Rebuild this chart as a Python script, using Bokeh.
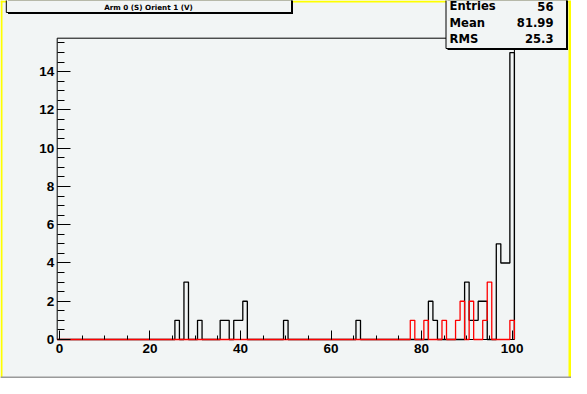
import numpy as np
from bokeh.plotting import figure
from bokeh.models import FixedTicker, BoxAnnotation, Label, Range1d
from bokeh.embed import file_html
from bokeh.resources import INLINE

# ---------------- data ----------------
title_text = "Arm 0 (S) Orient 1 (V)"
stats_names = ["Entries", "Mean", "RMS"]
stats_values = ["56", "81.99", "25.3"]

n_bins = 101
x_low, x_high = -0.5, 100.5

black_bins = [26, 28, 31, 36, 37, 39, 40, 41, 50, 66, 82, 83, 90, 91, 92, 93, 94, 97, 98, 99, 100]
black_counts = [1, 3, 1, 1, 1, 1, 1, 2, 1, 1, 2, 1, 3, 1, 1, 2, 2, 5, 4, 4, 15]

red_bins = [78, 81, 85, 88, 89, 91, 94, 95, 100]
red_counts = [1, 1, 1, 1, 2, 2, 1, 3, 1]

x_major_ticks = [0, 20, 40, 60, 80, 100]
x_minor_ticks = list(range(0, 101, 5))
y_major_ticks = [0, 2, 4, 6, 8, 10, 12, 14]
y_minor_ticks = [i * 0.5 for i in range(0, 32)]

# ---------------- layout (canvas pixels) ----------------
W, H = 571, 378
FX0, FX1, FY0, FY1 = 56.7, 513.9, 37.7, 339.0   # histogram frame: left, right, top, bottom
BG = "#f2f5f5"

y_top = max(black_counts) * 1.05
ppx = (FX1 - FX0) / (x_high - x_low)
ppy = (FY1 - FY0) / y_top
x_start = x_low - FX0 / ppx
x_end = x_high + (W - FX1) / ppx
y_start = -(H - FY1) / ppy
y_end = y_top + FY0 / ppy


def outline(bins, counts):
    full = np.zeros(n_bins)
    full[np.array(bins)] = counts
    edges = np.linspace(x_low, x_high, n_bins + 1)
    xs = [edges[0]]
    ys = [0.0]
    for i in range(n_bins):
        xs += [edges[i], edges[i + 1]]
        ys += [full[i], full[i]]
    xs.append(edges[-1])
    ys.append(0.0)
    return xs, ys


p = figure(width=W, height=H, x_range=Range1d(x_start, x_end), y_range=Range1d(y_start, y_end),
           output_backend="svg", toolbar_location=None,
           min_border=0, min_border_left=0, min_border_right=0, min_border_top=0, min_border_bottom=0,
           background_fill_color=BG, border_fill_color=BG, outline_line_color=None)
p.grid.visible = False

p.xaxis.fixed_location = 0
p.yaxis.fixed_location = x_low

for ax in (p.xaxis[0], p.yaxis[0]):
    ax.axis_line_color = None
    ax.major_tick_line_color = "black"
    ax.minor_tick_line_color = "black"
    ax.major_tick_out = 0
    ax.minor_tick_out = 0
    ax.major_label_text_font = "Liberation Sans"
    ax.major_label_text_font_style = "bold"
    ax.major_label_text_font_size = "13.5px"
    ax.major_label_text_color = "black"

p.xaxis.ticker = FixedTicker(ticks=x_major_ticks, minor_ticks=x_minor_ticks)
p.yaxis.ticker = FixedTicker(ticks=y_major_ticks, minor_ticks=y_minor_ticks)
p.xaxis.major_tick_in = 9
p.xaxis.minor_tick_in = 4
p.yaxis.major_tick_in = 13
p.yaxis.minor_tick_in = 7
p.xaxis.major_label_standoff = 4
p.yaxis.major_label_standoff = 3

# histogram frame
p.quad(left=[x_low], right=[x_high], bottom=[0], top=[y_top],
       fill_color=None, line_color="black", line_width=1)

bx, by = outline(black_bins, black_counts)
p.line(bx, by, line_color="black", line_width=1.3)
rx, ry = outline(red_bins, red_counts)
p.line(rx, ry, line_color="red", line_width=1.3)


def cbox(l, r, t, b, fill, line=None, lw=1):
    return BoxAnnotation(left=l, right=r, top=t, bottom=b,
                         left_units="canvas", right_units="canvas",
                         top_units="canvas", bottom_units="canvas",
                         fill_color=fill, fill_alpha=1.0,
                         line_color=line, line_width=lw, line_alpha=1.0 if line else 0.0)


# canvas border
p.add_layout(cbox(0, 2, 0, H, "#ffff00"))
p.add_layout(cbox(0, W, 0, 2, "#ffff00"))
p.add_layout(cbox(W - 3, W, 0, H, "#ffff00"))
p.add_layout(cbox(0, W, H - 2, H, "#9a9a9a"))

# title pave
p.add_layout(cbox(7.5, 292.5, -5, 13.5, "black"))
p.add_layout(cbox(5.8, 291, -5, 12, BG, "black", 1))
p.add_layout(Label(x=148, y=7, x_units="canvas", y_units="canvas", text=title_text,
                   text_font="DejaVu Sans", text_font_style="bold", text_font_size="7.2px",
                   text_align="center", text_baseline="middle", text_color="black"))

# stats pave
p.add_layout(cbox(447, 567.5, -5, 49.5, "black"))
p.add_layout(cbox(445.5, 566, -5, 48, BG, "black", 1))
stat_y = [5.5, 22, 38]
for name, val, yy in zip(stats_names, stats_values, stat_y):
    p.add_layout(Label(x=449, y=yy, x_units="canvas", y_units="canvas", text=name,
                       text_font="DejaVu Sans", text_font_style="bold", text_font_size="11.6px",
                       text_align="left", text_baseline="middle", text_color="black"))
    p.add_layout(Label(x=553, y=yy, x_units="canvas", y_units="canvas", text=val,
                       text_font="DejaVu Sans", text_font_style="bold", text_font_size="11.6px",
                       text_align="right", text_baseline="middle", text_color="black"))

open("out.html", "w").write(file_html(p, INLINE))
